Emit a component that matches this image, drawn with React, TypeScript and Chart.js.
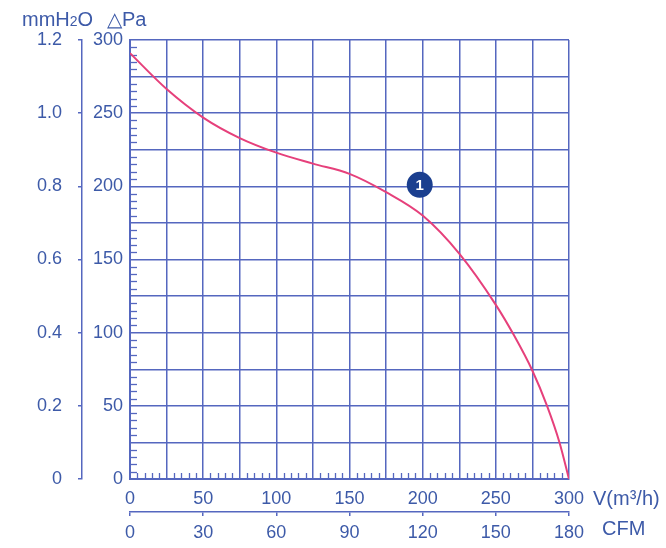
import React, { useEffect, useRef } from "react";
import { Chart, registerables } from "chart.js";

Chart.register(...registerables);

// Airflow V (m³/h) and static pressure ΔP (Pa)
const flowM3h = [0, 25, 50, 75, 100, 125, 150, 175, 200, 225, 250, 262.5, 275, 285, 293.5, 300];
const pressurePa = [291, 266.5, 247, 233, 223, 215.5, 208.5, 196, 180, 154, 119, 98, 74, 50, 25, 0];

// Curve marker "1"
const markerFlow = [198];
const markerPa = [201];
const markerLabel = "1";

// Axis ranges / tick labels
const paRange = [0, 300];
const paStep = 25;
const paLabelStep = 50;
const flowRange = [0, 300];
const flowStep = 25;
const flowLabelStep = 50;
const mmH2ORange = [0, 1.2];
const mmH2OStep = 0.2;
const cfmRange = [0, 180];
const cfmStep = 30;
const minorStep = 5;

const BLUE = "#3d5aa8";
const GRID = "#5567bf";
const CURVE = "#e6407b";
const FONT = "'Liberation Sans', Arial, sans-serif";

export default function App() {
  const ref = useRef<HTMLCanvasElement | null>(null);

  useEffect(() => {
    document.body.style.margin = "0";
    const canvas = ref.current;
    if (!canvas) return;

    const extras = {
      id: "extras",
      beforeDatasetsDraw(chart: any) {
        const ctx = chart.ctx;
        const x = chart.scales.x;
        const y = chart.scales.y;
        const area = chart.chartArea;
        ctx.save();
        ctx.strokeStyle = GRID;
        ctx.lineWidth = 1.3;
        for (let v = paRange[0] + minorStep; v < paRange[1]; v += minorStep) {
          if (v % paStep === 0) continue;
          const py = Math.round(y.getPixelForValue(v)) + 0.5;
          ctx.beginPath();
          ctx.moveTo(area.left, py);
          ctx.lineTo(area.left + 7, py);
          ctx.stroke();
        }
        for (let v = flowRange[0] + minorStep; v < flowRange[1]; v += minorStep) {
          if (v % flowStep === 0) continue;
          const px = Math.round(x.getPixelForValue(v)) + 0.5;
          ctx.beginPath();
          ctx.moveTo(px, area.bottom);
          ctx.lineTo(px, area.bottom - 6);
          ctx.stroke();
        }
        ctx.restore();
      },
      afterDatasetsDraw(chart: any) {
        const ctx = chart.ctx;
        const meta = chart.getDatasetMeta(1);
        ctx.save();
        if (meta && meta.data[0]) {
          const p = meta.data[0];
          ctx.fillStyle = "#ffffff";
          ctx.font = `bold 15px ${FONT}`;
          ctx.textAlign = "center";
          ctx.textBaseline = "middle";
          ctx.fillText(markerLabel, p.x, p.y + 1);
        }
        ctx.fillStyle = BLUE;
        ctx.textAlign = "left";
        ctx.textBaseline = "alphabetic";
        ctx.font = `20px ${FONT}`;
        let tx = 22;
        ctx.fillText("mmH", tx, 26);
        tx += ctx.measureText("mmH").width;
        ctx.font = `14px ${FONT}`;
        ctx.fillText("2", tx, 26);
        tx += ctx.measureText("2").width;
        ctx.font = `20px ${FONT}`;
        ctx.fillText("O", tx, 26);
        ctx.fillText("△Pa", 107, 26);
        ctx.fillText("V(m³/h)", 593, 505);
        ctx.fillText("CFM", 602, 535);
        ctx.restore();
      },
    };

    const chart = new Chart(canvas, {
      type: "line",
      data: {
        datasets: [
          {
            data: flowM3h.map((v, i) => ({ x: v, y: pressurePa[i] })),
            borderColor: CURVE,
            borderWidth: 2,
            pointRadius: 0,
            cubicInterpolationMode: "monotone",
            fill: false,
          },
          {
            data: markerFlow.map((v, i) => ({ x: v, y: markerPa[i] })),
            showLine: false,
            pointRadius: 13,
            pointHoverRadius: 13,
            pointBackgroundColor: "#1b3f8f",
            pointBorderWidth: 0,
            borderWidth: 0,
          },
        ],
      },
      options: {
        animation: false,
        responsive: false,
        devicePixelRatio: 1,
        layout: { padding: { top: 40, right: 97, left: 0, bottom: 0 } },
        plugins: { legend: { display: false }, tooltip: { enabled: false } },
        scales: {
          x: {
            type: "linear",
            position: "bottom",
            weight: 0,
            min: flowRange[0],
            max: flowRange[1],
            grid: { color: GRID, lineWidth: 1.5, drawTicks: false },
            border: { color: GRID, width: 2 },
            ticks: {
              stepSize: flowStep,
              padding: 9,
              color: BLUE,
              font: { family: FONT, size: 18 },
              maxRotation: 0,
              autoSkip: false,
              callback: (v: any) => (v % flowLabelStep === 0 ? String(v) : ""),
            },
            afterFit: (s: any) => {
              s.height = 33;
            },
          },
          x2: {
            type: "linear",
            position: "bottom",
            weight: 1,
            min: cfmRange[0],
            max: cfmRange[1],
            grid: { drawOnChartArea: false, color: GRID, lineWidth: 1.5, tickLength: 4 },
            border: { color: GRID, width: 1.5 },
            ticks: {
              stepSize: cfmStep,
              padding: 6,
              color: BLUE,
              font: { family: FONT, size: 18 },
              maxRotation: 0,
              autoSkip: false,
            },
            afterFit: (s: any) => {
              s.height = 36;
            },
          },
          y: {
            type: "linear",
            position: "left",
            weight: 0,
            min: paRange[0],
            max: paRange[1],
            grid: { color: GRID, lineWidth: 1.5, drawTicks: false },
            border: { color: GRID, width: 2 },
            ticks: {
              stepSize: paStep,
              padding: 7,
              color: BLUE,
              font: { family: FONT, size: 18 },
              autoSkip: false,
              callback: (v: any) => (v % paLabelStep === 0 ? String(v) : ""),
            },
            afterFit: (s: any) => {
              s.width = 48;
            },
          },
          y2: {
            type: "linear",
            position: "left",
            weight: 1,
            min: mmH2ORange[0],
            max: mmH2ORange[1],
            grid: { drawOnChartArea: false, color: GRID, lineWidth: 1.5, tickLength: 4 },
            border: { color: GRID, width: 1.5 },
            ticks: {
              stepSize: mmH2OStep,
              padding: 16,
              color: BLUE,
              font: { family: FONT, size: 18 },
              autoSkip: false,
              callback: (v: any) => {
                const r = Math.round(v * 10) / 10;
                return r === 0 ? "0" : r.toFixed(1);
              },
            },
            afterFit: (s: any) => {
              s.width = 82;
            },
          },
        },
      },
      plugins: [extras],
    } as any);

    return () => chart.destroy();
  }, []);

  return (
    <div style={{ width: 666, height: 548, background: "#fff" }}>
      <canvas ref={ref} width={666} height={548} style={{ display: "block", width: 666, height: 548 }} />
    </div>
  );
}
